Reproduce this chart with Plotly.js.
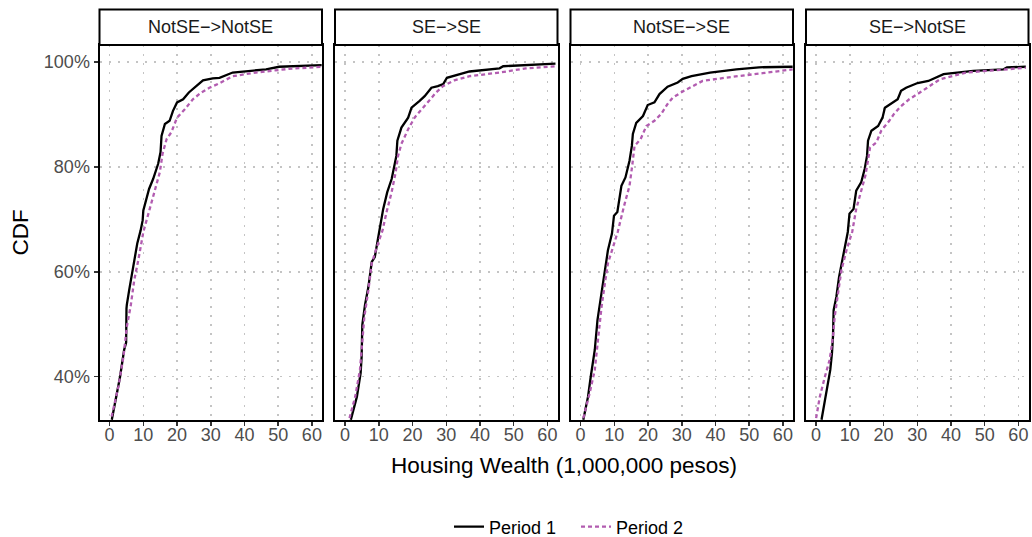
<!DOCTYPE html>
<html>
<head>
<meta charset="utf-8">
<script src="https://cdn.plot.ly/plotly-3.0.1.min.js"></script>
<style>html,body{margin:0;padding:0;background:#fff;}#chart{width:1032px;height:537px;}</style>
</head>
<body>
<div id="chart"></div>
<script>
// ---- data (x: housing wealth in 1,000,000 pesos, y: CDF in %) ----
var facets = ["NotSE\u2212>NotSE", "SE\u2212>SE", "NotSE\u2212>SE", "SE\u2212>NotSE"];
var seriesNames = ["Period 1", "Period 2"];
var xTicks = [0, 10, 20, 30, 40, 50, 60];
var yTicks = [40, 60, 80, 100];

var f1_p1_x = [0.65,1.6,3.1,4.3,4.9,5.0,5.1,5.8,6.7,7.5,8.2,9.2,9.8,10.0,11.7,12.9,14.4,15.1,15.4,16.4,17.8,18.8,20.0,21.8,23.5,25.7,27.7,30.6,32.6,36.5,46.4,50.3,62.9];
var f1_p1_y = [31.8,35.0,40.0,45.1,46.5,53.0,53.7,56.5,59.7,62.8,65.4,67.9,69.8,71.7,75.8,77.7,80.6,82.8,85.9,88.2,88.8,90.7,92.3,92.9,94.2,95.4,96.5,96.9,97.0,98.0,98.6,99.1,99.4];
var f1_p2_x = [0.6,2.6,4.1,5.1,6.3,7.3,8.5,10.0,11.9,13.4,14.9,15.7,16.9,18.3,20.0,22.3,24.7,27.2,29.6,32.1,36.5,43.4,53.2,62.9];
var f1_p2_y = [32.4,38.1,43.8,49.5,53.7,58.4,62.2,67.6,72.0,75.5,79.0,82.5,85.3,86.6,89.4,91.0,92.9,94.2,95.1,95.8,97.3,98.0,98.7,99.1];

var f2_p1_x = [1.7,3.5,4.6,4.9,5.1,5.9,6.9,7.9,8.8,9.4,10.1,11.3,12.5,13.8,14.5,15.2,15.5,16.7,18.7,19.7,22.1,23.6,25.6,27.5,29.1,30.2,36.9,45.8,46.9,62.4];
var f2_p1_y = [31.8,36.2,40.7,43.8,49.9,53.7,57.1,61.9,62.8,65.4,67.6,72.0,75.2,77.7,80.2,82.1,85.0,87.5,89.4,91.3,92.6,93.5,95.1,95.4,95.8,97.0,98.2,98.8,99.2,99.7];
var f2_p2_x = [1.3,3.0,4.4,5.1,5.7,6.9,7.9,9.4,11.1,12.3,13.8,15.0,15.7,16.7,18.7,20.6,23.1,25.1,27.0,29.0,32.4,36.9,45.8,53.6,62.4];
var f2_p2_y = [32.1,36.2,41.3,47.0,51.4,56.5,61.6,64.7,67.9,71.4,75.2,79.0,82.1,84.4,87.2,89.4,91.3,92.6,94.2,95.4,96.5,97.3,98.0,98.8,99.2];

var f3_p1_x = [0.8,2.2,3.0,4.2,5.0,5.7,6.7,7.4,8.1,9.3,9.9,10.9,12.1,13.3,14.5,15.2,15.5,16.5,18.5,19.9,21.9,23.4,25.8,28.8,30.3,32.9,38.4,46.2,52.9,62.9];
var f3_p1_y = [31.8,36.2,40.0,45.1,50.8,54.0,57.8,61.6,64.1,67.3,70.7,71.4,76.4,78.0,81.2,84.0,86.3,88.4,89.7,91.8,92.3,93.9,95.3,96.1,96.8,97.3,98.0,98.6,99.0,99.1];
var f3_p2_x = [0.8,2.7,4.2,5.2,6.2,7.2,8.1,9.6,11.0,12.9,14.5,15.3,16.0,17.8,19.5,21.9,23.9,25.8,27.3,30.3,36.2,42.9,52.9,62.9];
var f3_p2_y = [32.1,36.9,41.3,47.6,53.3,57.8,61.6,64.7,67.6,72.6,76.4,80.2,84.0,85.3,87.8,88.8,90.1,92.0,93.2,94.4,96.4,97.0,97.8,98.6];

var f4_p1_x = [1.6,3.1,4.2,4.7,5.0,5.2,6.0,6.8,7.8,8.5,9.4,9.9,11.1,11.9,13.4,14.4,15.1,15.4,16.4,18.4,19.7,20.4,22.2,24.2,25.2,26.7,30.1,33.3,37.8,46.6,55.5,56.6,62.2];
var f4_p1_y = [31.8,36.9,41.3,44.5,47.6,52.7,55.2,59.0,62.2,64.7,67.6,71.1,72.0,75.5,77.1,79.6,82.1,85.0,86.9,87.8,89.4,91.3,92.0,92.9,94.5,95.1,96.0,96.4,97.7,98.3,98.6,99.0,99.1];
var f4_p2_x = [0.0,1.1,2.6,4.0,5.0,5.5,6.5,7.5,9.0,10.7,11.9,13.4,14.6,15.3,16.0,17.9,19.3,21.7,23.1,25.2,27.6,30.1,36.7,44.5,55.5,62.2];
var f4_p2_y = [32.1,36.2,40.0,43.2,47.6,51.4,55.9,60.3,64.1,67.6,72.0,75.8,78.3,80.9,83.7,84.7,86.9,88.8,90.1,91.6,92.9,93.9,96.7,98.0,98.6,98.9];

var period1X = [f1_p1_x, f2_p1_x, f3_p1_x, f4_p1_x];
var period1Y = [f1_p1_y, f2_p1_y, f3_p1_y, f4_p1_y];
var period2X = [f1_p2_x, f2_p2_x, f3_p2_x, f4_p2_x];
var period2Y = [f1_p2_y, f2_p2_y, f3_p2_y, f4_p2_y];

// ---- layout geometry ----
var W = 1032, H = 537;
var panelLeft = [99.5, 335, 570.5, 806];
var panelW = 222.5;
var panelTop = 45, panelBottom = 420;
var stripTop = 9.5;
var black = "#000000", purple = "#b25cb0";
var FONT = "Liberation Sans, Arial, sans-serif";

var data = [];
var layout = {
  width: W, height: H,
  margin: {l: 0, r: 0, t: 0, b: 0, pad: 0, autoexpand: false},
  paper_bgcolor: "#ffffff", plot_bgcolor: "#ffffff",
  font: {family: FONT, size: 18, color: "#4d4d4d"},
  showlegend: true,
  legend: {orientation: "h", x: 449 / W, xanchor: "left", y: (H - 527) / H, yanchor: "middle",
           font: {family: FONT, size: 18, color: "#000000"}, itemwidth: 30, traceorder: "normal",
           entrywidth: 82, bgcolor: "rgba(0,0,0,0)"},
  shapes: [], annotations: []
};

for (var i = 0; i < 4; i++) {
  var sfx = i === 0 ? "" : String(i + 1);
  data.push({x: period1X[i], y: period1Y[i], type: "scatter", mode: "lines", name: seriesNames[0],
    legendgroup: "p1", showlegend: i === 0, xaxis: "x" + sfx, yaxis: "y" + sfx,
    line: {color: black, width: 2.3}, hoverinfo: "skip"});
  data.push({x: period2X[i], y: period2Y[i], type: "scatter", mode: "lines", name: seriesNames[1],
    legendgroup: "p2", showlegend: i === 0, xaxis: "x" + sfx, yaxis: "y" + sfx,
    line: {color: purple, width: 2.3, dash: "4px,3px"}, hoverinfo: "skip"});

  var x0 = panelLeft[i] / W, x1 = (panelLeft[i] + panelW) / W;
  layout["xaxis" + sfx] = {
    domain: [x0, x1], range: [-3, 63], anchor: "y" + sfx,
    tickvals: xTicks, ticktext: xTicks.map(String), ticks: "outside", ticklen: 4, tickwidth: 1.5, tickcolor: "#333333",
    ticklabelstandoff: -7,
    tickfont: {family: FONT, size: 18, color: "#4d4d4d"},
    showgrid: true, gridcolor: "#c4c4c4", gridwidth: 1.5, griddash: "2px,7px",
    zeroline: false, showline: true, mirror: true, linecolor: "#000000", linewidth: 2
  };
  layout["yaxis" + sfx] = {
    domain: [(H - panelBottom) / H, (H - panelTop) / H], range: [31.75, 103.25], anchor: "x" + sfx,
    tickvals: yTicks, ticktext: yTicks.map(function (v) { return v + "%"; }),
    ticks: i === 0 ? "outside" : "", ticklen: 4, tickwidth: 1.5, tickcolor: "#333333",
    showticklabels: i === 0,
    tickfont: {family: FONT, size: 18, color: "#4d4d4d"},
    showgrid: true, gridcolor: "#c4c4c4", gridwidth: 1.5, griddash: "2px,7px",
    zeroline: false, showline: true, mirror: true, linecolor: "#000000", linewidth: 2
  };

  layout.shapes.push({type: "rect", xref: "paper", yref: "paper", x0: x0, x1: x1,
    y0: (H - panelTop) / H, y1: (H - stripTop) / H,
    line: {color: "#000000", width: 2}, fillcolor: "#ffffff", layer: "above"});
  layout.annotations.push({xref: "paper", yref: "paper", x: (x0 + x1) / 2, y: (H - (panelTop + stripTop) / 2) / H,
    text: facets[i], showarrow: false, xanchor: "center", yanchor: "middle",
    font: {family: FONT, size: 18, color: "#1a1a1a"}});
}

layout.annotations.push({xref: "paper", yref: "paper", x: 564 / W, y: (H - 465) / H,
  text: "Housing Wealth (1,000,000 pesos)", showarrow: false, xanchor: "center", yanchor: "middle",
  font: {family: FONT, size: 22.5, color: "#000000"}});
layout.annotations.push({xref: "paper", yref: "paper", x: 20 / W, y: (H - 232.5) / H,
  text: "CDF", showarrow: false, textangle: -90, xanchor: "center", yanchor: "middle",
  font: {family: FONT, size: 22.5, color: "#000000"}});

Plotly.newPlot("chart", data, layout, {staticPlot: true, displayModeBar: false});
</script>
</body>
</html>
